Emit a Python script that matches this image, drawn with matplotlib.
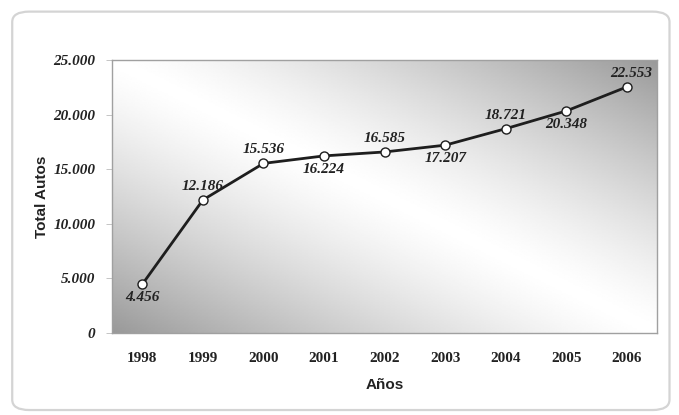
import numpy as np
import matplotlib
matplotlib.use("Agg")
import matplotlib.pyplot as plt
from matplotlib.patches import FancyBboxPatch

# Total de autos por año
anios = ["1998", "1999", "2000", "2001", "2002", "2003", "2004", "2005", "2006"]
total_autos = [4456, 12186, 15536, 16224, 16585, 17207, 18721, 20348, 22553]
etiquetas = ["4.456", "12.186", "15.536", "16.224", "16.585", "17.207", "18.721", "20.348", "22.553"]
# posición de cada etiqueta: 1 arriba, -1 abajo
lado = [-1, 1, 1, -1, 1, -1, 1, -1, 1]

y_ticks = [0, 5000, 10000, 15000, 20000, 25000]
y_tick_labels = ["0", "5.000", "10.000", "15.000", "20.000", "25.000"]

serif = "Liberation Serif"
sans = "Liberation Sans"

fig = plt.figure(figsize=(6.79, 4.15), dpi=100)
fig.patch.set_facecolor("white")

# marco redondeado exterior
marco = FancyBboxPatch((0.018, 0.012), 0.968, 0.96,
                       boxstyle="round,pad=0,rounding_size=0.025",
                       transform=fig.transFigure, facecolor="white",
                       edgecolor="#d4d4d4", linewidth=1.6, zorder=-1)
fig.patches.append(marco)

ax = fig.add_axes([0.165, 0.198, 0.803, 0.657])
x = np.arange(len(anios))

# fondo degradado: gris en las esquinas superior derecha e inferior izquierda
u, v = np.meshgrid(np.linspace(0, 1, 300), np.linspace(0, 1, 200))
d = np.abs(u + v - 1.0)
gris = 1.0 - 0.40 * d ** 1.3
ax.imshow(gris, cmap="gray", vmin=0, vmax=1, extent=[0, 1, 0, 1],
          transform=ax.transAxes, origin="lower", aspect="auto",
          interpolation="bilinear", zorder=0)

ax.plot(x, total_autos, color="#1e1e1e", linewidth=2.0, marker="o",
        markersize=6.5, markerfacecolor="white", markeredgecolor="#1e1e1e",
        markeredgewidth=1.0, zorder=3)

for xi, yi, txt, s in zip(x, total_autos, etiquetas, lado):
    dx = 3 if xi == len(anios) - 1 else 0
    ax.annotate(txt, (xi, yi), xytext=(dx, 5 * s), textcoords="offset points",
                ha="center", va="bottom" if s > 0 else "top",
                fontfamily=serif, fontstyle="italic", fontweight="bold",
                fontsize=11, color="#222222", zorder=4)

ax.set_xlim(-0.5, len(anios) - 0.5)
ax.set_ylim(0, 25000)
ax.set_xticks(x)
ax.set_xticklabels(anios, fontfamily=serif, fontweight="bold", fontsize=11, color="#222222")
ax.set_yticks(y_ticks)
ax.set_yticklabels(y_tick_labels, fontfamily=serif, fontstyle="italic",
                   fontweight="bold", fontsize=11, color="#222222")
ax.tick_params(axis="y", length=4, width=0.6, color="#bbbbbb", pad=8)
ax.tick_params(axis="x", length=0, pad=14)

for lado_eje in ax.spines.values():
    lado_eje.set_color("#a0a0a0")
    lado_eje.set_linewidth(1.0)

ax.set_xlabel("Años", fontfamily=sans, fontweight="bold", fontsize=11, color="#222222", labelpad=9)
ax.set_ylabel("Total Autos", fontfamily=sans, fontweight="bold", fontsize=11, color="#222222", labelpad=3)

fig.savefig("out.png", dpi=100, facecolor="white")
